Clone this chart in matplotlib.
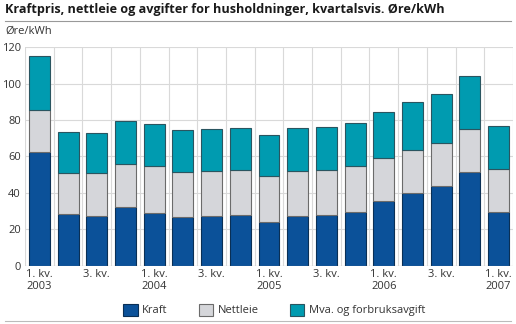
import matplotlib
matplotlib.use("Agg")
import matplotlib.pyplot as plt
from matplotlib.patches import Patch
from matplotlib.lines import Line2D
import numpy as np

plt.rcParams['font.family'] = ['Open Sans', 'DejaVu Sans']

quarters = ["1. kv.\n2003", "", "3. kv.", "", "1. kv.\n2004", "", "3. kv.", "",
            "1. kv.\n2005", "", "3. kv.", "", "1. kv.\n2006", "", "3. kv.", "",
            "1. kv.\n2007"]
kraft = [62.5, 28.2, 27.1, 32.1, 28.9, 26.6, 27.3, 27.7, 23.8, 27.1, 27.7, 29.3,
         35.4, 39.8, 43.8, 51.5, 29.3]
nettleie = [23.1, 22.9, 23.7, 24.0, 25.7, 25.1, 24.9, 25.1, 25.3, 25.1, 24.7, 25.3,
            24.0, 24.0, 23.4, 23.8, 23.6]
mva = [29.8, 22.2, 22.3, 23.4, 23.1, 22.7, 23.1, 22.9, 22.5, 23.3, 23.6, 23.6,
       25.1, 26.2, 27.2, 28.8, 23.9]
series_names = ["Kraft", "Nettleie", "Mva. og forbruksavgift"]
colors = ["#0b5199", "#d5d6da", "#009bb0"]
edges = ["#0a2f55", "#6b6b6b", "#2a5560"]

fig = plt.figure(figsize=(5.16, 3.24), dpi=100)
ax = fig.add_axes([25/516, 1-265.7/324, (513-25)/516, (265.7-47.3)/324])

x = np.arange(len(kraft))
w = 0.73
bottom = np.zeros(len(kraft))
for vals, c, ec in zip([kraft, nettleie, mva], colors, edges):
    ax.bar(x, vals, w, bottom=bottom, color=c, edgecolor=ec, linewidth=0.8, zorder=3)
    bottom += np.array(vals)

ax.set_xlim(-0.5, len(kraft) - 0.5)
ax.set_ylim(0, 120)
ax.set_yticks(np.arange(0, 121, 20))
ax.set_xticks(x)
ax.set_xticklabels(quarters, fontsize=8, color="#333333", linespacing=1.05)
ax.tick_params(axis='both', length=0, labelsize=8, colors="#333333")
ax.tick_params(axis='y', pad=3)
ax.tick_params(axis='x', pad=2.5)

# grid: horizontal at ticks, vertical at category boundaries
ax.set_xticks(np.arange(-0.5, len(kraft), 1.0), minor=True)
ax.grid(axis='y', which='major', color="#d9d9d9", linewidth=0.8, zorder=0)
ax.grid(axis='x', which='minor', color="#d9d9d9", linewidth=0.8, zorder=0)
ax.tick_params(axis='x', which='minor', length=0)
for s in ax.spines.values():
    s.set_visible(False)
ax.axhline(0, color="#bbbbbb", linewidth=0.8, zorder=4)

fig.text(5/516, 1-10/324, "Kraftpris, nettleie og avgifter for husholdninger, kvartalsvis. Øre/kWh",
         fontsize=9.1, fontweight='bold', color="#1a1a1a", va='center', ha='left')
fig.add_artist(Line2D([5/516, 511/516], [1-20.5/324, 1-20.5/324], color="#999999", linewidth=0.8))
fig.text(5/516, 1-31/324, "Øre/kWh", fontsize=8, color="#333333", va='center', ha='left')
fig.add_artist(Line2D([5/516, 511/516], [1-321/324, 1-321/324], color="#bbbbbb", linewidth=0.8))

handles = [Patch(facecolor=c, edgecolor=ec, linewidth=0.8) for c, ec in zip(colors, edges)]
fig.legend(handles, series_names, loc='center', bbox_to_anchor=(274/516, 1-310/324), ncol=3,
           frameon=False, fontsize=8, handlelength=1.3, handleheight=1.3, handletextpad=0.4,
           columnspacing=2.8, labelcolor="#333333")

fig.savefig("out.png", dpi=100)
